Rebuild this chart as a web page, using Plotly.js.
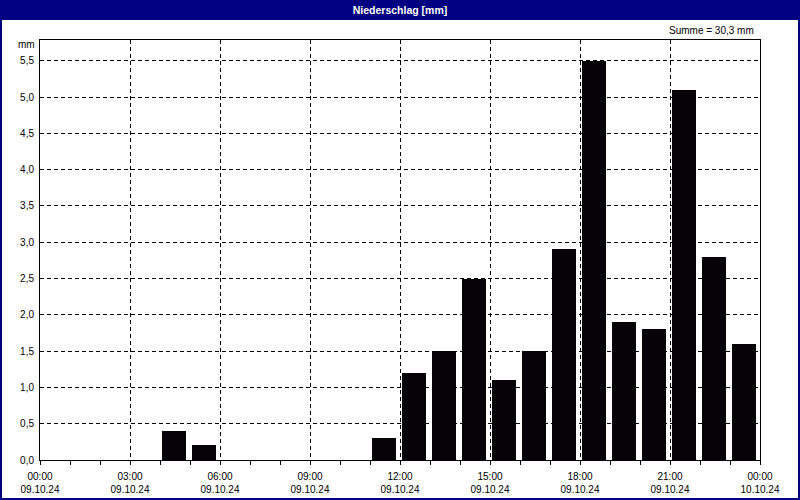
<!DOCTYPE html>
<html>
<head>
<meta charset="utf-8">
<script src="https://cdn.plot.ly/plotly-3.0.1.min.js"></script>
<style>html,body{margin:0;padding:0;background:#fff;}#chart{width:800px;height:500px;}</style>
</head>
<body>
<div id="chart"></div>
<script>
// Hourly precipitation (start of each hour), 09.10.24
const hours = ["2024-10-09 04:00","2024-10-09 05:00","2024-10-09 11:00","2024-10-09 12:00","2024-10-09 13:00",
  "2024-10-09 14:00","2024-10-09 15:00","2024-10-09 16:00","2024-10-09 17:00","2024-10-09 18:00",
  "2024-10-09 19:00","2024-10-09 20:00","2024-10-09 21:00","2024-10-09 22:00","2024-10-09 23:00"];
const precip = [0.4,0.2,0.3,1.2,1.5,2.5,1.1,1.5,2.9,5.5,1.9,1.8,5.1,2.8,1.6];
const tickVals = ["2024-10-09 00:00","2024-10-09 03:00","2024-10-09 06:00","2024-10-09 09:00","2024-10-09 12:00",
  "2024-10-09 15:00","2024-10-09 18:00","2024-10-09 21:00","2024-10-10 00:00"];
const tickTimes = ["00:00","03:00","06:00","09:00","12:00","15:00","18:00","21:00","00:00"];
const tickDates = ["09.10.24","09.10.24","09.10.24","09.10.24","09.10.24","09.10.24","09.10.24","09.10.24","10.10.24"];

const HOUR = 3600000;
const font = "Liberation Sans, Arial, sans-serif";
const total = precip.reduce((a,b)=>a+b,0);
const sumText = "Summe = " + total.toFixed(1).replace(".", ",") + " mm";
const xRange = ["2024-10-09 00:00","2024-10-10 00:00"];

const trace = {
  type: "bar", x: hours, y: precip,
  width: 0.8*HOUR, offset: HOUR/15,
  marker: {color: "#050308", line: {width: 0}},
  hoverinfo: "skip"
};
// invisible helper trace so the second (date-label) axis is drawn
const helper = {type: "scatter", x: xRange, y: [0,0], xaxis: "x2", mode: "none", hoverinfo: "skip"};

const layout = {
  width: 800, height: 500,
  margin: {l: 40, r: 40, t: 40, b: 40, pad: 0},
  paper_bgcolor: "#ffffff", plot_bgcolor: "#ffffff",
  separators: ",.",
  font: {family: font, size: 10, color: "#000000"},
  showlegend: false, bargap: 0,
  title: {text: "<b>Niederschlag [mm]</b>", font: {family: font, size: 10.5, color: "#ffffff"},
          x: 0.5, xanchor: "center", y: 0.98, yanchor: "middle", yref: "container"},
  xaxis: {
    type: "date", range: xRange,
    tickmode: "array", tickvals: tickVals, ticktext: tickTimes,
    ticks: "outside", ticklen: 4, tickcolor: "#000", tickwidth: 1,
    minor: {dtick: HOUR, ticks: "outside", ticklen: 4, tickcolor: "#000", showgrid: false},
    showgrid: true, gridcolor: "#000000", gridwidth: 1, griddash: "4px,3px",
    showline: true, linecolor: "#000", linewidth: 1, mirror: true,
    zeroline: false, tickfont: {size: 10, family: font}, ticklabelstandoff: 3, fixedrange: true
  },
  xaxis2: {
    type: "date", range: xRange, overlaying: "x", side: "bottom", anchor: "y",
    tickmode: "array", tickvals: tickVals, ticktext: tickDates,
    ticks: "", showgrid: false, showline: false, zeroline: false,
    tickfont: {size: 10, family: font}, ticklabelstandoff: 22, fixedrange: true
  },
  yaxis: {
    range: [0, 5.786], dtick: 0.5, tick0: 0, tickformat: ".1f",
    ticks: "", showgrid: true, gridcolor: "#000000", gridwidth: 1, griddash: "4px,3px",
    showline: true, linecolor: "#000", linewidth: 1, mirror: true,
    zeroline: false, tickfont: {size: 10, family: font}, ticklabelstandoff: 3, fixedrange: true
  },
  shapes: [
    {type: "rect", xref: "paper", yref: "paper", x0: -40/720, x1: 1+40/720, y0: 440/420, y1: 460/420,
     fillcolor: "#000080", line: {width: 0}, layer: "above"},
    {type: "rect", xref: "paper", yref: "paper", x0: -39/720, x1: 1+39/720, y0: -39/420, y1: 459/420,
     fillcolor: "rgba(0,0,0,0)", line: {color: "#000080", width: 2}, layer: "above"}
  ],
  annotations: [
    {text: "mm", xref: "paper", yref: "paper", x: -3/720, y: 415/420, xanchor: "right", yanchor: "middle",
     showarrow: false, font: {size: 10, family: font}},
    {text: sumText, xref: "paper", yref: "paper", x: 716/720, y: 430/420, xanchor: "right", yanchor: "middle",
     showarrow: false, font: {size: 10, family: font}}
  ]
};

Plotly.newPlot("chart", [trace, helper], layout, {displayModeBar: false, staticPlot: true});
</script>
</body>
</html>
